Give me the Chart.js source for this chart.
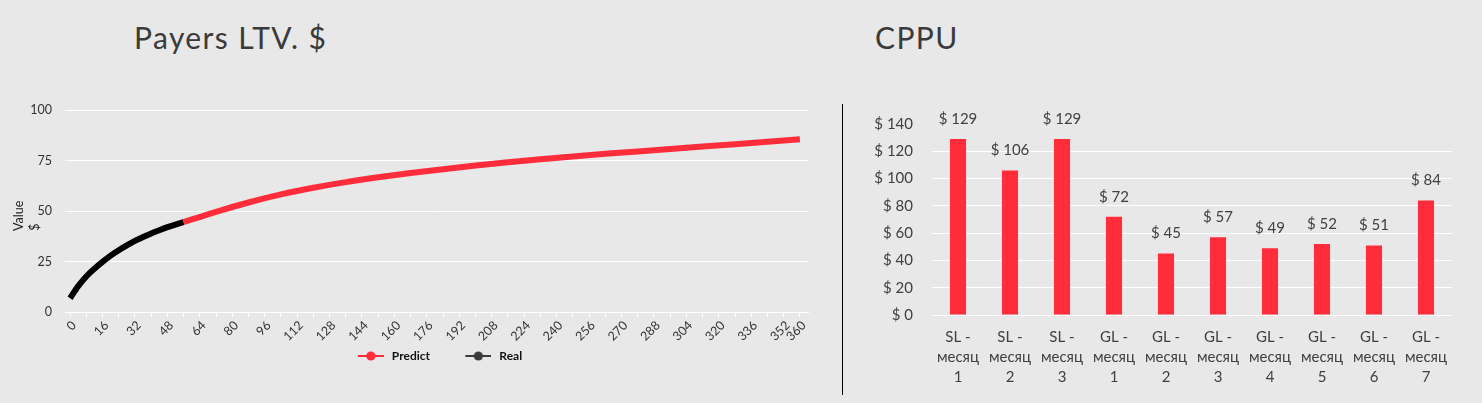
<!DOCTYPE html>
<html>
<head>
<meta charset="utf-8">
<script src="https://cdn.jsdelivr.net/npm/chart.js@4.4.1/dist/chart.umd.min.js"></script>
<style>
  html, body { margin: 0; padding: 0; background: #e7e8e7; }
  body { width: 1482px; height: 403px; position: relative; overflow: hidden; font-family: Lato, sans-serif; }
  .title { position: absolute; top: 19px; font-size: 30px; line-height: 36px; color: #3a3a3a; letter-spacing: 1.4px; white-space: nowrap; }
  #ltvTitle { left: 134px; }
  #cppuTitle { left: 875px; }
  #ltvChart { position: absolute; left: 0; top: 0; }
  #cppuChart { position: absolute; left: 845px; top: 0; }
  #divider { position: absolute; left: 842px; top: 104px; width: 1px; height: 291px; background: #000; }
</style>
</head>
<body>
<div class="title" id="ltvTitle">Payers LTV. $</div>
<div class="title" id="cppuTitle">CPPU</div>
<canvas id="ltvChart" width="874" height="403"></canvas>
<div id="divider"></div>
<canvas id="cppuChart" width="637" height="403"></canvas>
<script>
// LTV curve (day -> $)
const realDays = [0, 4, 8, 12, 16, 20, 24, 28, 32, 36, 40, 44, 48, 52, 56];
const realValues = [6.8, 12.8, 17.6, 21.4, 24.8, 27.9, 30.6, 33.0, 35.2, 37.1, 38.9, 40.5, 42.0, 43.3, 44.5];
const predictDays = [56, 72, 88, 104, 120, 136, 152, 168, 184, 200, 216, 232, 248, 264, 280, 296, 312, 328, 344, 360];
const predictValues = [44.5, 49.6, 54.2, 58.2, 61.5, 64.3, 66.7, 68.8, 70.7, 72.5, 74.1, 75.6, 77.0, 78.3, 79.5, 80.7, 81.9, 83.1, 84.3, 85.5];

// x tick labels as printed on the original axis
const dayTicks = [0, 16, 32, 48, 64, 80, 96, 112, 128, 144, 160, 176, 192, 208, 224, 240, 256, 272, 288, 304, 320, 336, 352, 360];
const dayTickLabels = ['0', '16', '32', '48', '64', '80', '96', '112', '128', '144', '160', '176', '192', '208', '224', '240', '256', '270', '288', '304', '320', '336', '352', '360'];
const valueTicks = [0, 25, 50, 75, 100];

// CPPU bars
const cppuLabels = [
  ['SL -', 'месяц', '1'], ['SL -', 'месяц', '2'], ['SL -', 'месяц', '3'],
  ['GL -', 'месяц', '1'], ['GL -', 'месяц', '2'], ['GL -', 'месяц', '3'],
  ['GL -', 'месяц', '4'], ['GL -', 'месяц', '5'], ['GL -', 'месяц', '6'],
  ['GL -', 'месяц', '7'],
];
const cppuValues = [129, 106, 129, 72, 45, 57, 49, 52, 51, 84];

const COLORS = {
  red: '#ff2d3b',
  black: '#000000',
  realLegend: '#3a3a3a',
  grid: '#ffffff',
  tick: '#333333',
  excelText: '#404040',
};

// legend icon: short line with a dot, a little blank room on the left
function legendIcon(color) {
  const c = document.createElement('canvas');
  c.width = 31;
  c.height = 12;
  const g = c.getContext('2d');
  g.strokeStyle = color;
  g.lineWidth = 2;
  g.beginPath();
  g.moveTo(5, 6);
  g.lineTo(31, 6);
  g.stroke();
  g.fillStyle = color;
  g.beginPath();
  g.arc(18, 6, 4.6, 0, Math.PI * 2);
  g.fill();
  return c;
}
const legendIcons = { Predict: legendIcon(COLORS.red), Real: legendIcon(COLORS.realLegend) };

function toPoints(xs, ys) {
  return xs.map((x, i) => ({ x: x, y: ys[i] }));
}

new Chart(document.getElementById('ltvChart'), {
  type: 'line',
  data: {
    datasets: [
      {
        label: 'Predict',
        data: toPoints(predictDays, predictValues),
        borderColor: COLORS.red,
        backgroundColor: COLORS.red,
      },
      {
        label: 'Real',
        data: toPoints(realDays, realValues),
        borderColor: COLORS.black,
        backgroundColor: COLORS.black,
      },
    ],
  },
  options: {
    responsive: false,
    animation: false,
    devicePixelRatio: 1,
    layout: { padding: { left: 11, right: 66, top: 110, bottom: 31 } },
    elements: {
      point: { radius: 0, hoverRadius: 0 },
      line: { borderWidth: 6, cubicInterpolationMode: 'monotone' },
    },
    scales: {
      x: {
        type: 'linear',
        min: -2.5,
        max: 364,
        afterBuildTicks(scale) {
          const ticks = [];
          for (let d = 0; d <= 360; d += 8) ticks.push({ value: d });
          scale.ticks = ticks;
        },
        ticks: {
          autoSkip: false,
          minRotation: 45,
          maxRotation: 45,
          padding: 1,
          labelOffset: 4,
          color: COLORS.tick,
          font: { family: 'Lato', size: 12.5 },
          callback(value) {
            const i = dayTicks.indexOf(value);
            return i >= 0 ? dayTickLabels[i] : '';
          },
        },
        grid: { drawOnChartArea: false, drawTicks: true, tickLength: 5, color: COLORS.grid },
        border: { display: true, color: COLORS.grid },
      },
      y: {
        min: 0,
        max: 100,
        afterBuildTicks(scale) { scale.ticks = valueTicks.map((v) => ({ value: v })); },
        afterFit(scale) { scale.width = 54; },
        ticks: { padding: 13, color: COLORS.tick, font: { family: 'Lato', size: 12.5 } },
        grid: { color: COLORS.grid, drawTicks: false },
        border: { display: false },
        title: {
          display: true,
          text: ['Value   ', '$          '],
          color: '#222',
          padding: 0,
          font: { family: 'Lato', size: 12.5, lineHeight: 1.28 },
        },
      },
    },
    plugins: {
      tooltip: { enabled: false },
      legend: {
        position: 'bottom',
        fullSize: false,
        labels: {
          usePointStyle: true,
          pointStyleWidth: 35,
          padding: 5,
          color: '#111',
          font: { family: 'Lato', size: 12, weight: 'bold' },
          generateLabels(chart) {
            const items = Chart.defaults.plugins.legend.labels.generateLabels(chart);
            items.forEach((it) => {
              it.pointStyle = legendIcons[it.text];
              if (it.text === 'Predict') it.text = 'Predict        ';
            });
            return items;
          },
        },
      },
    },
  },
});

// "$ 129" labels above each bar
const barValueLabels = {
  id: 'barValueLabels',
  afterDatasetsDraw(chart) {
    const ctx = chart.ctx;
    const meta = chart.getDatasetMeta(0);
    const values = chart.data.datasets[0].data;
    ctx.save();
    ctx.font = '15px Lato';
    ctx.fillStyle = COLORS.excelText;
    ctx.textAlign = 'center';
    ctx.textBaseline = 'middle';
    meta.data.forEach((bar, i) => {
      ctx.fillText('$ ' + values[i], bar.x, bar.y - 20);
    });
    ctx.restore();
  },
};

new Chart(document.getElementById('cppuChart'), {
  type: 'bar',
  data: {
    labels: cppuLabels,
    datasets: [{
      data: cppuValues,
      backgroundColor: COLORS.red,
      categoryPercentage: 1,
      barPercentage: 0.31,
    }],
  },
  plugins: [barValueLabels],
  options: {
    responsive: false,
    animation: false,
    devicePixelRatio: 1,
    layout: { padding: { left: 8, right: 30, top: 124, bottom: 8 } },
    scales: {
      x: {
        afterFit(scale) { scale.height = 80; },
        ticks: {
          padding: 4,
          color: COLORS.excelText,
          font: { family: 'Lato', size: 15, lineHeight: 1.33 },
          maxRotation: 0,
          autoSkip: false,
        },
        grid: { display: false },
        border: { display: false },
      },
      y: {
        min: 0,
        max: 140,
        afterFit(scale) { scale.width = 79; },
        ticks: {
          stepSize: 20,
          padding: 19,
          color: COLORS.excelText,
          font: { family: 'Lato', size: 15 },
          callback: (v) => '$ ' + v,
        },
        grid: {
          drawTicks: false,
          color: (c) => (c.tick && c.tick.value === 140 ? 'rgba(0,0,0,0)' : COLORS.grid),
        },
        border: { display: false },
      },
    },
    plugins: {
      legend: { display: false },
      tooltip: { enabled: false },
    },
  },
});
</script>
</body>
</html>
